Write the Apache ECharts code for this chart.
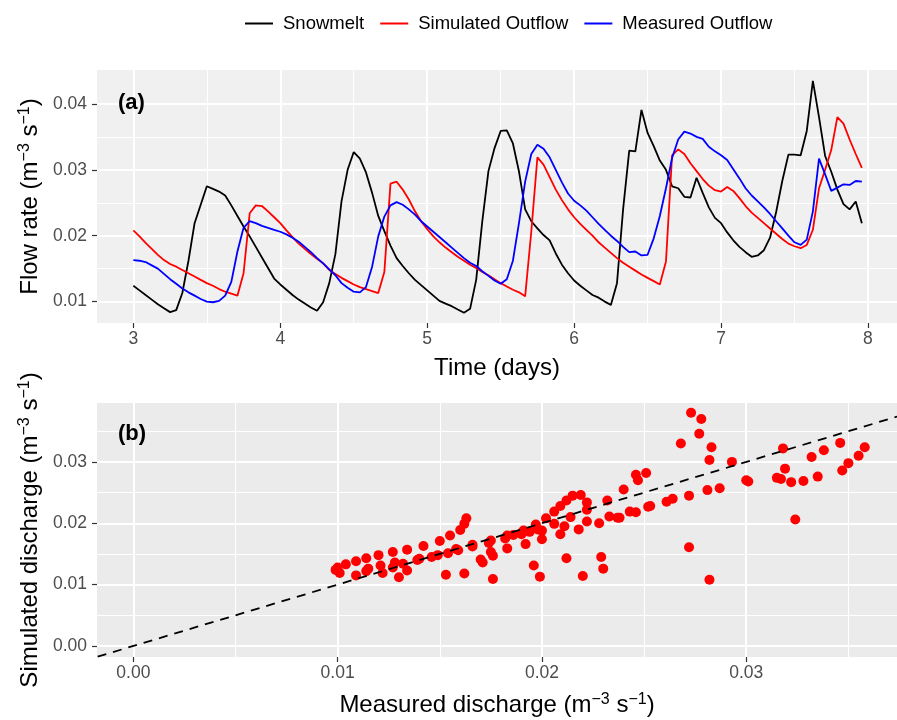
<!DOCTYPE html>
<html>
<head>
<meta charset="utf-8">
<script src="https://cdn.jsdelivr.net/npm/echarts@6/dist/echarts.min.js"></script>
<style>html,body{margin:0;padding:0;background:#fff;}#c{width:897px;height:720px;}</style>
</head>
<body>
<div id="c"></div>
<script>
// ---- Data (time in days, hourly) ----
const time = [
 3.0000,3.0417,3.0833,3.1250,3.1667,3.2083,3.2500,3.2917,3.3333,3.3750,3.4167,3.4583,3.5000,3.5417,3.5833,3.6250,3.6667,3.7083,3.7500,3.7917,3.8333,3.8750,3.9167,3.9583,
 4.0000,4.0417,4.0833,4.1250,4.1667,4.2083,4.2500,4.2917,4.3333,4.3750,4.4167,4.4583,4.5000,4.5417,4.5833,4.6250,4.6667,4.7083,4.7500,4.7917,4.8333,4.8750,4.9167,4.9583,
 5.0000,5.0417,5.0833,5.1250,5.1667,5.2083,5.2500,5.2917,5.3333,5.3750,5.4167,5.4583,5.5000,5.5417,5.5833,5.6250,5.6667,5.7083,5.7500,5.7917,5.8333,5.8750,5.9167,5.9583,
 6.0000,6.0417,6.0833,6.1250,6.1667,6.2083,6.2500,6.2917,6.3333,6.3750,6.4167,6.4583,6.5000,6.5417,6.5833,6.6250,6.6667,6.7083,6.7500,6.7917,6.8333,6.8750,6.9167,6.9583,
 7.0000,7.0417,7.0833,7.1250,7.1667,7.2083,7.2500,7.2917,7.3333,7.3750,7.4167,7.4583,7.5000,7.5417,7.5833,7.6250,7.6667,7.7083,7.7500,7.7917,7.8333,7.8750,7.9167,7.9583
];
const snowmelt = [
 0.0124,0.0117,0.0110,0.0103,0.0096,0.0090,0.0084,0.0087,0.0113,0.0162,0.0219,0.0247,0.0275,0.0271,0.0267,0.0261,0.0246,0.0230,0.0214,0.0199,0.0183,0.0167,0.0151,0.0135,
 0.0126,0.0118,0.0110,0.0103,0.0097,0.0091,0.0086,0.0099,0.0128,0.0172,0.0252,0.0300,0.0327,0.0317,0.0296,0.0265,0.0230,0.0207,0.0185,0.0166,0.0154,0.0143,0.0133,0.0125,
 0.0117,0.0109,0.0101,0.0097,0.0093,0.0088,0.0083,0.0089,0.0133,0.0222,0.0298,0.0333,0.0359,0.0360,0.0340,0.0297,0.0240,0.0222,0.0211,0.0201,0.0193,0.0173,0.0156,0.0143,
 0.0132,0.0124,0.0117,0.0110,0.0106,0.0100,0.0095,0.0128,0.0240,0.0329,0.0328,0.0391,0.0356,0.0336,0.0314,0.0300,0.0275,0.0272,0.0259,0.0258,0.0288,0.0265,0.0243,0.0227,
 0.0219,0.0205,0.0193,0.0183,0.0175,0.0168,0.0170,0.0178,0.0197,0.0236,0.0283,0.0323,0.0323,0.0322,0.0359,0.0435,0.0380,0.0321,0.0297,0.0270,0.0248,0.0240,0.0252,0.0219
];
const simulated = [
 0.0208,0.0199,0.0189,0.0180,0.0171,0.0163,0.0157,0.0153,0.0148,0.0143,0.0138,0.0133,0.0128,0.0124,0.0119,0.0115,0.0112,0.0109,0.0143,0.0234,0.0246,0.0245,0.0237,0.0228,
 0.0219,0.0208,0.0198,0.0188,0.0180,0.0172,0.0165,0.0158,0.0148,0.0142,0.0136,0.0131,0.0126,0.0122,0.0119,0.0116,0.0113,0.0145,0.0279,0.0282,0.0270,0.0255,0.0237,0.0222,
 0.0210,0.0199,0.0190,0.0182,0.0175,0.0168,0.0162,0.0156,0.0151,0.0145,0.0140,0.0134,0.0128,0.0123,0.0118,0.0114,0.0108,0.0206,0.0319,0.0308,0.0289,0.0270,0.0254,0.0240,
 0.0228,0.0218,0.0209,0.0200,0.0190,0.0182,0.0174,0.0166,0.0159,0.0153,0.0147,0.0141,0.0136,0.0131,0.0126,0.0161,0.0322,0.0331,0.0324,0.0310,0.0298,0.0286,0.0276,0.0269,
 0.0267,0.0274,0.0268,0.0257,0.0245,0.0235,0.0227,0.0219,0.0211,0.0203,0.0195,0.0188,0.0184,0.0181,0.0186,0.0209,0.0272,0.0300,0.0330,0.0380,0.0370,0.0346,0.0324,0.0303
];
const measured = [
 0.0163,0.0162,0.0160,0.0155,0.0150,0.0142,0.0134,0.0127,0.0120,0.0114,0.0109,0.0104,0.0100,0.0099,0.0101,0.0109,0.0130,0.0176,0.0212,0.0222,0.0219,0.0215,0.0212,0.0209,
 0.0206,0.0202,0.0197,0.0191,0.0183,0.0175,0.0166,0.0158,0.0149,0.0140,0.0128,0.0121,0.0115,0.0114,0.0122,0.0153,0.0199,0.0229,0.0246,0.0251,0.0247,0.0240,0.0232,0.0222,
 0.0214,0.0206,0.0198,0.0190,0.0182,0.0174,0.0166,0.0159,0.0154,0.0146,0.0139,0.0132,0.0127,0.0134,0.0162,0.0220,0.0282,0.0324,0.0338,0.0332,0.0319,0.0300,0.0281,0.0264,
 0.0253,0.0246,0.0238,0.0228,0.0218,0.0209,0.0200,0.0192,0.0183,0.0175,0.0176,0.0170,0.0171,0.0196,0.0230,0.0272,0.0318,0.0346,0.0358,0.0355,0.0350,0.0347,0.0335,0.0328,
 0.0322,0.0315,0.0301,0.0287,0.0272,0.0261,0.0252,0.0243,0.0233,0.0222,0.0211,0.0200,0.0190,0.0186,0.0194,0.0237,0.0317,0.0293,0.0268,0.0273,0.0278,0.0277,0.0283,0.0282
];
const seriesNames = ['Snowmelt', 'Simulated Outflow', 'Measured Outflow'];
// tick values
const timeTicks = [3, 4, 5, 6, 7, 8];
const timeMinor = [3.5, 4.5, 5.5, 6.5, 7.5];
const flowTicks = [0.01, 0.02, 0.03, 0.04];
const flowMinor = [0.015, 0.025, 0.035];
const dischargeTicks = [0.00, 0.01, 0.02, 0.03];
const dischargeMinor = [0.005, 0.015, 0.025, 0.035];
const oneToOne = [-0.01, 0.05];

// ---- Build ----
const chart = echarts.init(document.getElementById('c'), null, {renderer: 'canvas'});
const FONT = '"Liberation Sans", Arial, sans-serif';
const supRich = {
  t: {fontSize: 24, color: '#000', fontFamily: FONT},
  s: {fontSize: 16, color: '#000', fontFamily: FONT, verticalAlign: 'top', padding: [0, 0, 10, 0]}
};

function majorAxis(gridIndex, min, max, ticks, fmt, margin, extra) {
  return Object.assign({
    type: 'value', gridIndex, min, max,
    axisLine: {show: false, onZero: false},
    axisTick: {show: true, length: 5, customValues: ticks, lineStyle: {color: '#333333', width: 1.2}},
    axisLabel: {show: true, customValues: ticks, formatter: fmt, color: '#4D4D4D', fontSize: 17.5, fontFamily: FONT, margin: margin},
    splitLine: {show: true, lineStyle: {color: '#FFFFFF', width: 2}},
    minorSplitLine: {show: false}
  }, extra || {});
}
function minorAxis(gridIndex, min, max, ticks, position) {
  return {
    type: 'value', gridIndex, min, max, position,
    axisLine: {show: false, onZero: false},
    axisTick: {show: false, customValues: ticks},
    axisLabel: {show: false, customValues: ticks},
    splitLine: {show: true, lineStyle: {color: '#FFFFFF', width: 1}}
  };
}
const fmt2 = v => v.toFixed(2);
const fmt0 = v => String(Math.round(v));

const xA = [2.7525, 8.1975], yA = [0.00675, 0.04515];
const xB = [-0.00178, 0.03738], yB = [-0.0018, 0.0396];

const option = {
  animation: false,
  backgroundColor: '#FFFFFF',
  textStyle: {fontFamily: FONT},
  legend: {
    data: seriesNames,
    top: 9, left: 240,
    icon: 'rect', itemWidth: 28, itemHeight: 2, itemGap: 16,
    textStyle: {fontSize: 18.5, color: '#000', fontFamily: FONT, padding: [0, 0, 0, 5]}
  },
  grid: [
    {left: 97, top: 70, width: 807, height: 253, show: true, backgroundColor: '#F0F0F0', borderWidth: 0},
    {left: 97, top: 403, width: 807, height: 254, show: true, backgroundColor: '#EBEBEB', borderWidth: 0}
  ],
  xAxis: [
    majorAxis(0, xA[0], xA[1], timeTicks, fmt0, 7, {
      position: 'bottom', name: 'Time (days)', nameLocation: 'middle', nameGap: 33,
      nameTextStyle: {fontSize: 24, color: '#000', fontFamily: FONT}
    }),
    minorAxis(0, xA[0], xA[1], timeMinor, 'top'),
    majorAxis(1, xB[0], xB[1], dischargeTicks, fmt2, 7, {
      position: 'bottom', name: '{t|Measured discharge (m}{s|−3}{t| s}{s|−1}{t|)}', nameLocation: 'middle', nameGap: 35,
      nameTextStyle: {rich: supRich}
    }),
    minorAxis(1, xB[0], xB[1], dischargeMinor, 'top')
  ],
  yAxis: [
    majorAxis(0, yA[0], yA[1], flowTicks, fmt2, 10, {
      position: 'left', name: '{t|Flow rate (m}{s|−3}{t| s}{s|−1}{t|)}', nameLocation: 'middle', nameGap: 54,
      nameTextStyle: {rich: supRich}
    }),
    minorAxis(0, yA[0], yA[1], flowMinor, 'right'),
    majorAxis(1, yB[0], yB[1], dischargeTicks, fmt2, 10, {
      position: 'left', name: '{t|Simulated discharge (m}{s|−3}{t| s}{s|−1}{t|)}', nameLocation: 'middle', nameGap: 54,
      nameTextStyle: {rich: supRich}
    }),
    minorAxis(1, yB[0], yB[1], dischargeMinor, 'right')
  ],
  series: [
    {name: seriesNames[0], type: 'line', xAxisIndex: 0, yAxisIndex: 0, symbol: 'none',
     lineStyle: {color: '#000000', width: 1.8}, itemStyle: {color: '#000000'},
     data: time.map((t, i) => [t, snowmelt[i]]), z: 3},
    {name: seriesNames[1], type: 'line', xAxisIndex: 0, yAxisIndex: 0, symbol: 'none',
     lineStyle: {color: '#FF0000', width: 1.8}, itemStyle: {color: '#FF0000'},
     data: time.map((t, i) => [t, simulated[i]]), z: 4},
    {name: seriesNames[2], type: 'line', xAxisIndex: 0, yAxisIndex: 0, symbol: 'none',
     lineStyle: {color: '#0000FF', width: 1.8}, itemStyle: {color: '#0000FF'},
     data: time.map((t, i) => [t, measured[i]]), z: 5},
    {name: 'points', type: 'scatter', xAxisIndex: 2, yAxisIndex: 2, symbol: 'circle', symbolSize: 10,
     itemStyle: {color: '#FF0000', opacity: 1},
     data: measured.map((m, i) => [m, simulated[i]]), z: 4},
    {name: 'oneToOne', type: 'line', xAxisIndex: 2, yAxisIndex: 2, symbol: 'none', clip: true,
     lineStyle: {color: '#000000', width: 1.8, type: [9, 7]},
     data: oneToOne.map(v => [v, v]), z: 5}
  ],
  graphic: [
    {type: 'text', left: 118, top: 92, z: 100, style: {text: '(a)', fontSize: 22, fontWeight: 'bold', fill: '#000', fontFamily: FONT}},
    {type: 'text', left: 118, top: 423, z: 100, style: {text: '(b)', fontSize: 22, fontWeight: 'bold', fill: '#000', fontFamily: FONT}}
  ]
};
chart.setOption(option);
</script>
</body>
</html>
